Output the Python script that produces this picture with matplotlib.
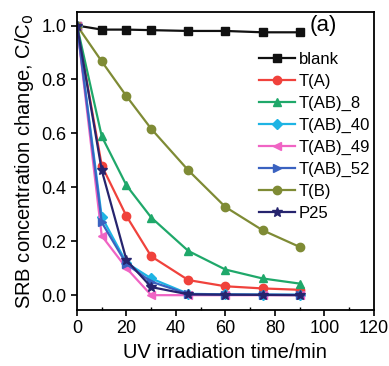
import matplotlib.pyplot as plt
import numpy as np

plt.rcParams.update({
    "font.family": ["Liberation Sans", "DejaVu Sans"],
})

t = [0, 10, 20, 30, 45, 60, 75, 90]
blank = [1.0, 0.985, 0.985, 0.983, 0.98, 0.98, 0.975, 0.975]
t_a = [1.0, 0.48, 0.293, 0.144, 0.056, 0.033, 0.025, 0.02]
t_ab8 = [1.0, 0.589, 0.407, 0.288, 0.164, 0.095, 0.062, 0.043]
t_ab40 = [1.0, 0.29, 0.12, 0.062, 0.005, 0.003, 0.002, 0.002]
t_ab49 = [1.0, 0.22, 0.10, 0.0, 0.0, 0.0, 0.0, 0.0]
t_ab52 = [1.0, 0.27, 0.115, 0.05, 0.004, 0.002, 0.002, 0.001]
t_b = [1.0, 0.867, 0.738, 0.617, 0.463, 0.327, 0.241, 0.179]
p25 = [1.0, 0.463, 0.13, 0.03, 0.003, 0.002, 0.001, 0.0]

series = [
    ("blank", blank, "#111111", "s"),
    ("T(A)", t_a, "#f0423c", "o"),
    ("T(AB)_8", t_ab8, "#1fa86a", "^"),
    ("T(AB)_40", t_ab40, "#1eb4e4", "D"),
    ("T(AB)_49", t_ab49, "#f064c4", "<"),
    ("T(AB)_52", t_ab52, "#3a62c0", ">"),
    ("T(B)", t_b, "#7f8b35", "o"),
    ("P25", p25, "#26246e", "*"),
]

fig = plt.figure(figsize=(3.89, 3.66), dpi=100)
ax = fig.add_axes([0.198, 0.153, 0.763, 0.814])

for name, y, c, m in series:
    ms = 7 if m == "*" else 6
    if m == "D":
        ms = 5
    ax.plot(t, y, color=c, marker=m, markersize=ms, lw=1.6, label=name)

ax.set_xlim(0, 120)
ax.set_ylim(-0.055, 1.05)
ax.set_xticks(np.arange(0, 121, 20))
ax.set_xticks(np.arange(0, 121, 10), minor=True)
ax.set_yticks(np.arange(0, 1.01, 0.2))
ax.set_yticklabels(["0.0", "0.2", "0.4", "0.6", "0.8", "1.0"])
ax.tick_params(which="major", direction="out", length=4, width=1.2, labelsize=13)
ax.tick_params(which="minor", direction="in", length=2, width=1.0)
ax.tick_params(axis="y", which="minor", left=False)
for s in ax.spines.values():
    s.set_linewidth(1.3)

ax.set_xlabel("UV irradiation time/min", fontsize=14.5, labelpad=4)
ax.set_ylabel("SRB concentration change, C/C$_0$", fontsize=14.5, labelpad=4)
ax.text(0.785, 0.955, "(a)", transform=ax.transAxes, fontsize=16, ha="left", va="center")

ax.legend(loc="upper left", bbox_to_anchor=(0.59, 0.89), frameon=False,
          fontsize=12, handlelength=2.2, handletextpad=0.2, labelspacing=0.42,
          borderaxespad=0)

fig.savefig("out.png", dpi=100)
